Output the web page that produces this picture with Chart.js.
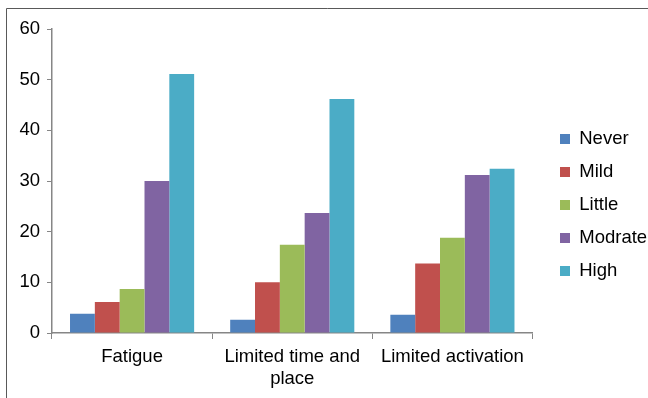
<!DOCTYPE html>
<html lang="en">
<head>
  <meta charset="UTF-8">
  <title>Barriers chart</title>
  <script src="https://cdn.jsdelivr.net/npm/chart.js"></script>
  <style>
    body {
      margin: 0;
      background-color: white;
    }
  </style>
</head>
<body>

<canvas id="barChart" width="648" height="398"></canvas>

<script>
  // categories and series
  const categories = ["Fatigue", ["Limited time and", "place"], "Limited activation"];
  const seriesNames = ["Never", "Mild", "Little", "Modrate", "High"];
  const never    = [3.8, 2.6, 3.6];
  const mild     = [6.1, 10.0, 13.7];
  const little   = [8.7, 17.4, 18.8];
  const modrate  = [30.0, 23.7, 31.2];
  const high     = [51.1, 46.2, 32.4];
  const yTicks   = [0, 10, 20, 30, 40, 50, 60];

  const colors = ['#4F81BD', '#C0504D', '#9BBB59', '#8064A2', '#4BACC6'];
  const values = [never, mild, little, modrate, high];
  const font = { family: 'Liberation Sans, Arial, sans-serif', size: 18.5 };

  // frame around the chart (only top and left edge are in view)
  const framePlugin = {
    id: 'frame',
    beforeDraw(chart) {
      const ctx = chart.ctx;
      ctx.save();
      ctx.strokeStyle = '#595959';
      ctx.lineWidth = 1;
      ctx.beginPath();
      ctx.moveTo(6.5, 398);
      ctx.lineTo(6.5, 8.5);
      ctx.lineTo(648, 8.5);
      ctx.stroke();
      ctx.restore();
    }
  };

  const ctx = document.getElementById('barChart').getContext('2d');
  new Chart(ctx, {
    type: 'bar',
    data: {
      labels: categories,
      datasets: seriesNames.map((name, i) => ({
        label: name,
        data: values[i],
        backgroundColor: colors[i],
        borderWidth: 0,
        categoryPercentage: 0.775,
        barPercentage: 1.0
      }))
    },
    options: {
      responsive: false,
      animation: false,
      layout: { padding: { top: 29, left: 8, bottom: 0, right: -5 } },
      plugins: {
        tooltip: { enabled: false },
        legend: {
          position: 'right',
          align: 'start',
          // empty title only used to push the items down
          title: { display: true, text: ' ', font: { size: 10 }, padding: { top: 74.25, bottom: 0 } },
          labels: {
            boxWidth: 10,
            boxHeight: 10,
            padding: 14.5,
            color: '#000',
            font: font
          }
        }
      },
      scales: {
        x: {
          afterFit: s => { s.height = 65; },
          grid: { display: true, drawOnChartArea: false, offset: true, color: '#868686', tickLength: 6 },
          border: { color: '#868686', width: 1.5 },
          ticks: {
            color: '#000',
            padding: 7,
            maxRotation: 0,
            font: { family: font.family, size: font.size, lineHeight: 1.2 }
          }
        },
        y: {
          min: 0,
          max: 60,
          afterFit: s => { s.width = 44; },
          afterBuildTicks: s => { s.ticks = yTicks.map(v => ({ value: v })); },
          grid: { display: true, drawOnChartArea: false, color: '#868686', tickLength: 5 },
          border: { color: '#868686', width: 1.5 },
          ticks: {
            color: '#000',
            padding: 7,
            font: font
          }
        },
        gap: {
          type: 'linear',
          axis: 'y',
          position: 'right',
          display: true,
          grid: { display: false },
          border: { display: false },
          ticks: { display: false },
          afterFit: s => { s.width = 13; }
        }
      }
    },
    plugins: [framePlugin]
  });
</script>

</body>
</html>
